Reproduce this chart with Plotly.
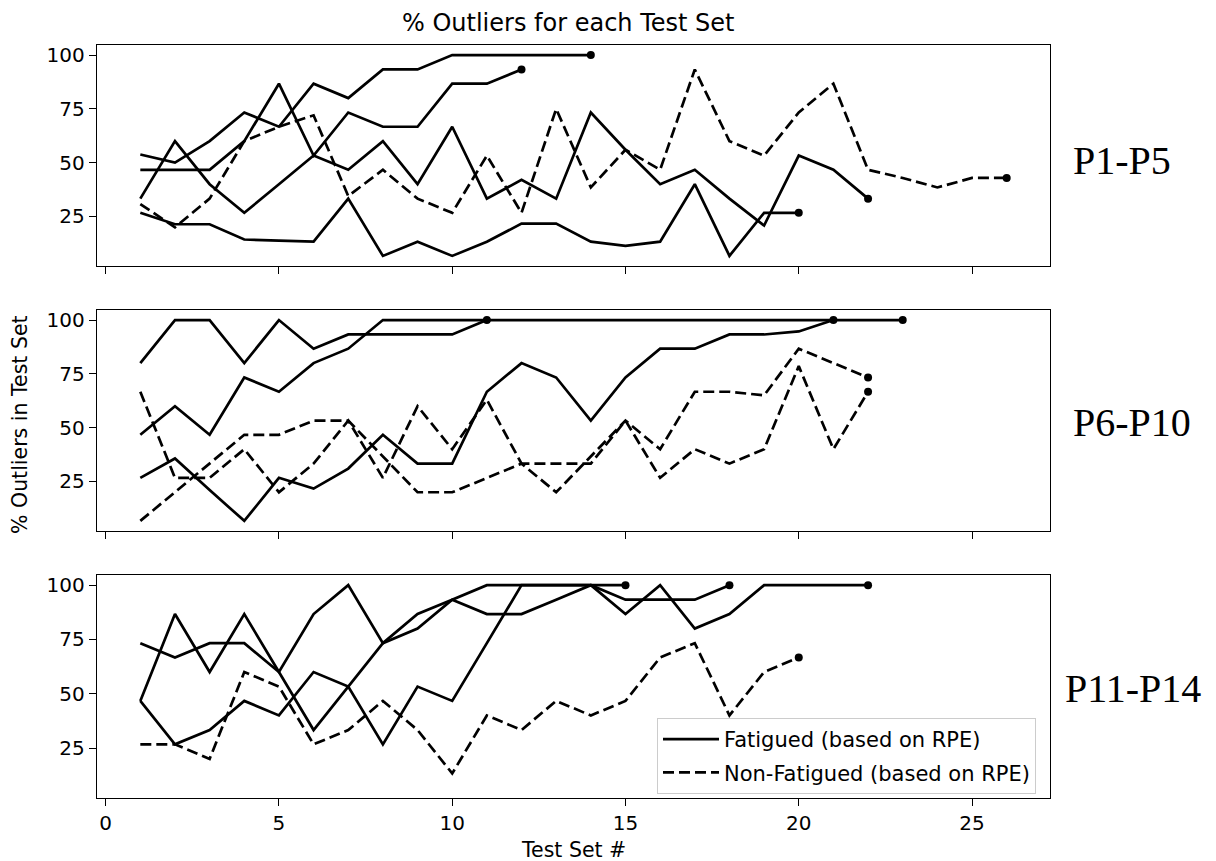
import plotly.graph_objects as go

# ---------------- data ----------------
# Panel 1: P1-P5
p1_fat_a = [53.8, 50, 60, 73.3, 66.7, 86.7, 80, 93.3, 93.3, 100, 100, 100, 100, 100]
p1_fat_b = [46.7, 46.7, 46.7, 60, 86.7, 53.3, 73.3, 66.7, 66.7, 86.7, 86.7, 93.3]
p1_fat_c = [33.3, 60, 40, 26.7, 40, 53.3, 46.7, 60, 40, 66.7, 33.3, 42, 33.3, 73.3,
            56, 40, 46.7, 33.3, 20.8, 53.3, 46.7, 33.3]
p1_fat_d = [26.7, 21.4, 21.4, 14.3, 13.8, 13.3, 33.3, 6.7, 13.3, 6.7, 13.3, 21.7, 21.7,
            13.3, 11.4, 13.3, 40, 6.7, 26.7, 26.7]
p1_non_a = [30.8, 20, 33.3, 60, 66.7, 72, 34.5, 46.7, 33.3, 26.7, 53.3, 26.7, 75, 38.5,
            56, 46.7, 93.3, 60, 53.3, 73.3, 86.7, 46.7, 42.9, 38.5, 42.9, 42.9]

# Panel 2: P6-P10
p2_fat_a = [80, 100, 100, 80, 100, 86.7, 93.3, 93.3, 93.3, 93.3, 100]
p2_fat_b = [46.7, 60, 46.7, 73.3, 66.7, 80, 86.7, 100, 100, 100, 100, 100, 100, 100, 100,
            100, 100, 100, 100, 100, 100, 100, 100]
p2_fat_c = [26.7, 35.7, 21, 6.7, 26.7, 21.7, 31, 46.7, 33.3, 33.3, 66.7, 80, 73.3, 53.3,
            73.3, 86.7, 86.7, 93.3, 93.3, 94.7, 100]
p2_non_a = [66.7, 26.7, 26.7, 40, 20, 33.3, 53.3, 26.7, 60, 40, 63, 33.3, 20, 36.7, 53.3,
            40, 66.7, 66.7, 65, 86.7, 80, 73.3]
p2_non_b = [6.7, 20, 33.3, 46.7, 46.7, 53.3, 53.3, 36.7, 20, 20, 26.7, 33.3, 33.3, 33.3,
            53.3, 26.7, 40, 33.3, 40, 78.6, 40, 66.7]

# Panel 3: P11-P14
p3_fat_a = [73.3, 66.7, 73.3, 73.3, 60, 86.7, 100, 73.3, 86.7, 93.3, 86.7, 86.7, 93.3, 100,
            86.7, 100, 80, 86.7, 100, 100, 100, 100]
p3_fat_b = [46.7, 86.7, 60, 86.7, 60, 33.3, 53.3, 73.3, 80, 93.3, 100, 100, 100, 100, 100]
p3_fat_c = [46.7, 26.7, 33.3, 46.7, 40, 60, 53.3, 26.7, 53.3, 46.7, 73.3, 100, 100, 100,
            93.3, 93.3, 93.3, 100]
p3_non_a = [26.7, 26.7, 20, 60, 53.3, 26.7, 33.3, 46.7, 33.3, 13.3, 40, 33.3, 46.7, 40,
            46.7, 66.7, 73.3, 40, 60, 66.7]

panel_labels = ["P1-P5", "P6-P10", "P11-P14"]
panel_fat = [[p1_fat_a, p1_fat_b, p1_fat_c, p1_fat_d],
             [p2_fat_a, p2_fat_b, p2_fat_c],
             [p3_fat_a, p3_fat_b, p3_fat_c]]
panel_non = [[p1_non_a], [p2_non_a, p2_non_b], [p3_non_a]]

legend_fat = "Fatigued (based on RPE)"
legend_non = "Non-Fatigued (based on RPE)"
title_text = "% Outliers for each Test Set"
ylabel_text = "% Outliers in Test Set"
xlabel_text = "Test Set #"
x_ticks = [0, 5, 10, 15, 20, 25]
y_ticks = [25, 50, 75, 100]

# ---------------- figure ----------------
OFF = 8  # page body margin
W, H = 1208, 853
# desired plot area in page pixels
PX_L, PX_R = 97, 1050
PANEL_PX = [(45, 266), (310, 531), (575, 798)]
ML = PX_L - OFF
MR = W - (PX_R - OFF)
MT = PANEL_PX[0][0] - OFF
MB = H - (PANEL_PX[2][1] - OFF)
PW = W - ML - MR
PH = H - MT - MB


def px_x(page_x):
    return (page_x - OFF - ML) / PW


def px_y(page_y):
    return (H - MB - (page_y - OFF)) / PH


domains = [[px_y(b), px_y(t)] for (t, b) in PANEL_PX]
label_pos = [(1071, 160), (1071, 422), (1063, 688)]

fig = go.Figure()
DASH = "11px,5px"
LW = 2.7
shown_fat = False
shown_non = False

for i in range(3):
    ax = "" if i == 0 else str(i + 1)
    xref, yref = "x" + ax, "y" + ax
    for series in panel_fat[i]:
        xs = list(range(1, len(series) + 1))
        show = (i == 2 and not shown_fat)
        if show:
            shown_fat = True
        fig.add_trace(go.Scatter(x=xs, y=series, mode="lines", xaxis=xref, yaxis=yref,
                                 line=dict(color="black", width=LW),
                                 name=legend_fat, legendgroup="fat", legendrank=1,
                                 showlegend=show))
        fig.add_trace(go.Scatter(x=[xs[-1]], y=[series[-1]], mode="markers", xaxis=xref,
                                 yaxis=yref, marker=dict(color="black", size=8),
                                 showlegend=False, hoverinfo="skip"))
    for series in panel_non[i]:
        xs = list(range(1, len(series) + 1))
        show = (i == 2 and not shown_non)
        if show:
            shown_non = True
        fig.add_trace(go.Scatter(x=xs, y=series, mode="lines", xaxis=xref, yaxis=yref,
                                 line=dict(color="black", width=LW, dash=DASH),
                                 name=legend_non, legendgroup="non", legendrank=2,
                                 showlegend=show))
        fig.add_trace(go.Scatter(x=[xs[-1]], y=[series[-1]], mode="markers", xaxis=xref,
                                 yaxis=yref, marker=dict(color="black", size=8),
                                 showlegend=False, hoverinfo="skip"))

axis_common = dict(showline=True, mirror=True, linecolor="black", linewidth=1.4,
                   showgrid=False, zeroline=False, ticks="outside", ticklen=7,
                   tickwidth=1.4, tickcolor="black",
                   tickfont=dict(family="DejaVu Sans", size=20, color="black"))

layout = dict(
    width=W, height=H,
    margin=dict(l=ML, r=MR, t=MT, b=MB),
    paper_bgcolor="white", plot_bgcolor="white",
    font=dict(family="DejaVu Sans", size=20, color="black"),
    showlegend=True,
    legend=dict(x=px_x(657), y=px_y(718),
                xanchor="left", yanchor="top",
                bgcolor="rgba(255,255,255,0.85)", bordercolor="#cccccc", borderwidth=1,
                font=dict(family="DejaVu Sans", size=21, color="black"),
                itemwidth=56, traceorder="grouped", tracegroupgap=3),
)

for i in range(3):
    ax = "" if i == 0 else str(i + 1)
    layout["xaxis" + ax] = dict(axis_common, domain=[0, 1], anchor="y" + ax,
                                range=[-0.25, 27.25], tickvals=x_ticks,
                                showticklabels=(i == 2))
    layout["yaxis" + ax] = dict(axis_common, domain=domains[i], anchor="x" + ax,
                                range=[2.0, 104.67], tickvals=y_ticks)

fig.update_layout(**layout)

ann = []
ann.append(dict(text=title_text, x=px_x(568), y=px_y(23), xref="paper", yref="paper",
                xanchor="center", yanchor="middle", showarrow=False,
                font=dict(family="DejaVu Sans", size=24, color="black")))
ann.append(dict(text=ylabel_text, x=px_x(20), y=px_y(425),
                xref="paper", yref="paper", textangle=-90, xanchor="center",
                yanchor="middle", showarrow=False,
                font=dict(family="DejaVu Sans", size=20.5, color="black")))
ann.append(dict(text=xlabel_text, x=px_x(573), y=px_y(850),
                xref="paper", yref="paper", xanchor="center", yanchor="middle",
                showarrow=False, font=dict(family="DejaVu Sans", size=20.5, color="black")))
for i in range(3):
    lx, ly = label_pos[i]
    ann.append(dict(text=panel_labels[i], x=px_x(lx), y=px_y(ly),
                    xref="paper", yref="paper",
                    xanchor="left", yanchor="middle", showarrow=False,
                    font=dict(family="Liberation Serif", size=40, color="black")))
fig.update_layout(annotations=ann)

fig.write_html("out.html")
